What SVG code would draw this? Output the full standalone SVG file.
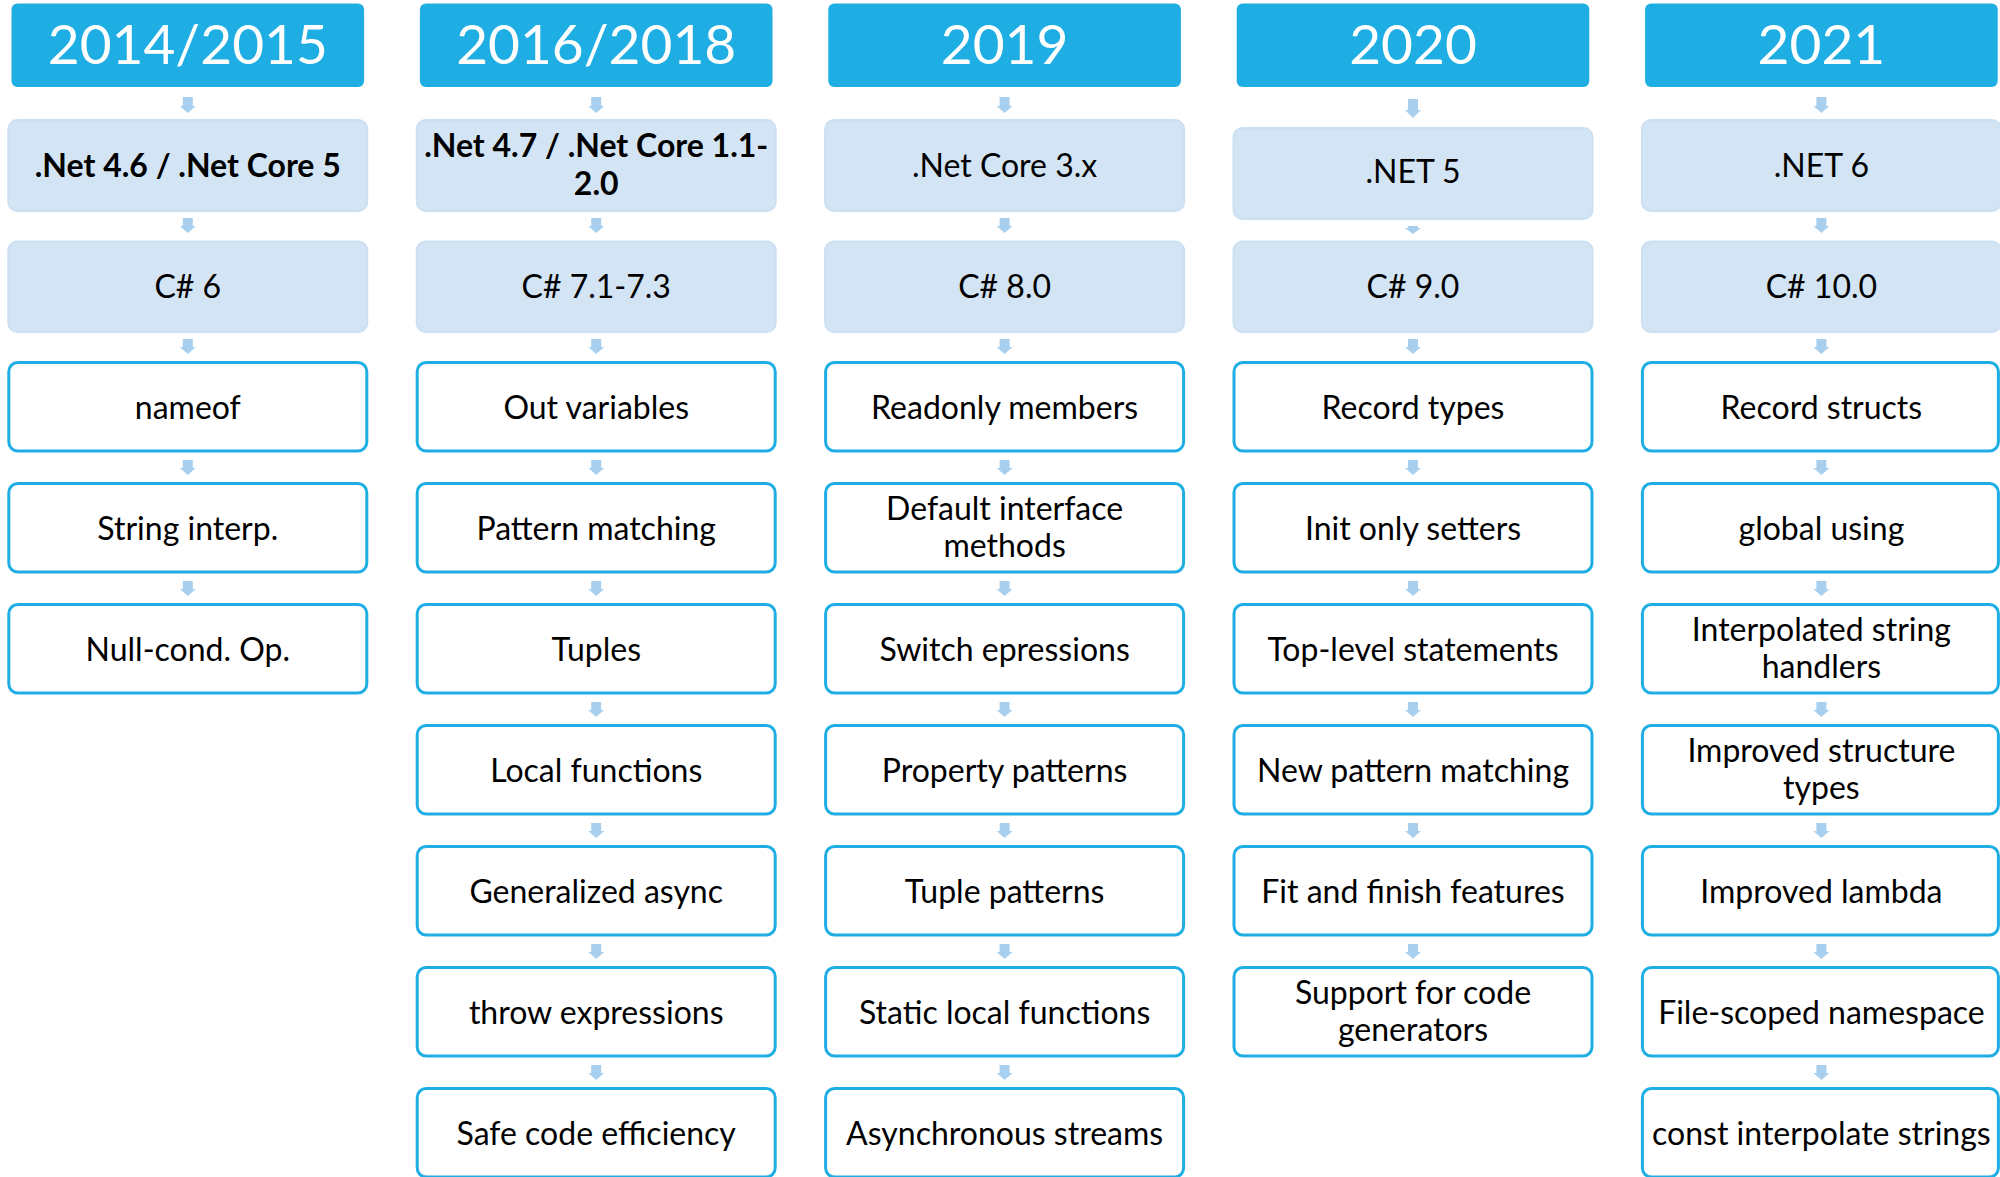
<svg xmlns="http://www.w3.org/2000/svg" width="2000" height="1177" viewBox="0 0 2000 1177">
<style>
.hdr{fill:#1FAEE3}
.hdr-t{fill:#FFFFFF;font-family:Lato,"Liberation Sans",sans-serif;font-size:55px;text-anchor:middle}
.lb{fill:#D3E5F5;stroke:#CCE0F2;stroke-width:2}
.wb{fill:#FFFFFF;stroke:#1FAEE3;stroke-width:3}
.t{fill:#000000;font-family:Lato,"Liberation Sans",sans-serif;font-size:32px;text-anchor:middle}
.b{font-weight:bold}
.arr{fill:#A8D0EE}
</style>
<rect width="2000" height="1177" fill="#FFFFFF"/>

<g id="connectors">
<!-- column 1 cx=187.8 -->
<path class="arr" d="M182.8,97 H192.8 V106 H195.8 L187.8,113 L179.8,106 H182.8 Z"/>
<path class="arr" d="M182.8,218 H192.8 V226 H195.8 L187.8,233 L179.8,226 H182.8 Z"/>
<path class="arr" d="M182.8,339 H192.8 V347 H195.8 L187.8,354 L179.8,347 H182.8 Z"/>
<path class="arr" d="M182.8,460 H192.8 V468 H195.8 L187.8,475 L179.8,468 H182.8 Z"/>
<path class="arr" d="M182.8,581 H192.8 V589 H195.8 L187.8,596 L179.8,589 H182.8 Z"/>
<!-- column 2 cx=596.2 -->
<path class="arr" d="M591.2,97 H601.2 V106 H604.2 L596.2,113 L588.2,106 H591.2 Z"/>
<path class="arr" d="M591.2,218 H601.2 V226 H604.2 L596.2,233 L588.2,226 H591.2 Z"/>
<path class="arr" d="M591.2,339 H601.2 V347 H604.2 L596.2,354 L588.2,347 H591.2 Z"/>
<path class="arr" d="M591.2,460 H601.2 V468 H604.2 L596.2,475 L588.2,468 H591.2 Z"/>
<path class="arr" d="M591.2,581 H601.2 V589 H604.2 L596.2,596 L588.2,589 H591.2 Z"/>
<path class="arr" d="M591.2,702 H601.2 V710 H604.2 L596.2,717 L588.2,710 H591.2 Z"/>
<path class="arr" d="M591.2,823 H601.2 V831 H604.2 L596.2,838 L588.2,831 H591.2 Z"/>
<path class="arr" d="M591.2,944 H601.2 V952 H604.2 L596.2,959 L588.2,952 H591.2 Z"/>
<path class="arr" d="M591.2,1065 H601.2 V1073 H604.2 L596.2,1080 L588.2,1073 H591.2 Z"/>
<!-- column 3 cx=1004.6 -->
<path class="arr" d="M999.6,97 H1009.6 V106 H1012.6 L1004.6,113 L996.6,106 H999.6 Z"/>
<path class="arr" d="M999.6,218 H1009.6 V226 H1012.6 L1004.6,233 L996.6,226 H999.6 Z"/>
<path class="arr" d="M999.6,339 H1009.6 V347 H1012.6 L1004.6,354 L996.6,347 H999.6 Z"/>
<path class="arr" d="M999.6,460 H1009.6 V468 H1012.6 L1004.6,475 L996.6,468 H999.6 Z"/>
<path class="arr" d="M999.6,581 H1009.6 V589 H1012.6 L1004.6,596 L996.6,589 H999.6 Z"/>
<path class="arr" d="M999.6,702 H1009.6 V710 H1012.6 L1004.6,717 L996.6,710 H999.6 Z"/>
<path class="arr" d="M999.6,823 H1009.6 V831 H1012.6 L1004.6,838 L996.6,831 H999.6 Z"/>
<path class="arr" d="M999.6,944 H1009.6 V952 H1012.6 L1004.6,959 L996.6,952 H999.6 Z"/>
<path class="arr" d="M999.6,1065 H1009.6 V1073 H1012.6 L1004.6,1080 L996.6,1073 H999.6 Z"/>
<!-- column 4 cx=1413 -->
<path class="arr" d="M1408,99 H1418 V110 H1421 L1413,118 L1405,110 H1408 Z"/>
<path class="arr" d="M1408,226 H1418 V228 H1421 L1413,234 L1405,228 H1408 Z"/>
<path class="arr" d="M1408,339 H1418 V347 H1421 L1413,354 L1405,347 H1408 Z"/>
<path class="arr" d="M1408,460 H1418 V468 H1421 L1413,475 L1405,468 H1408 Z"/>
<path class="arr" d="M1408,581 H1418 V589 H1421 L1413,596 L1405,589 H1408 Z"/>
<path class="arr" d="M1408,702 H1418 V710 H1421 L1413,717 L1405,710 H1408 Z"/>
<path class="arr" d="M1408,823 H1418 V831 H1421 L1413,838 L1405,831 H1408 Z"/>
<path class="arr" d="M1408,944 H1418 V952 H1421 L1413,959 L1405,952 H1408 Z"/>
<!-- column 5 cx=1821.4 -->
<path class="arr" d="M1816.4,97 H1826.4 V106 H1829.4 L1821.4,113 L1813.4,106 H1816.4 Z"/>
<path class="arr" d="M1816.4,218 H1826.4 V226 H1829.4 L1821.4,233 L1813.4,226 H1816.4 Z"/>
<path class="arr" d="M1816.4,339 H1826.4 V347 H1829.4 L1821.4,354 L1813.4,347 H1816.4 Z"/>
<path class="arr" d="M1816.4,460 H1826.4 V468 H1829.4 L1821.4,475 L1813.4,468 H1816.4 Z"/>
<path class="arr" d="M1816.4,581 H1826.4 V589 H1829.4 L1821.4,596 L1813.4,589 H1816.4 Z"/>
<path class="arr" d="M1816.4,702 H1826.4 V710 H1829.4 L1821.4,717 L1813.4,710 H1816.4 Z"/>
<path class="arr" d="M1816.4,823 H1826.4 V831 H1829.4 L1821.4,838 L1813.4,831 H1816.4 Z"/>
<path class="arr" d="M1816.4,944 H1826.4 V952 H1829.4 L1821.4,959 L1813.4,952 H1816.4 Z"/>
<path class="arr" d="M1816.4,1065 H1826.4 V1073 H1829.4 L1821.4,1080 L1813.4,1073 H1816.4 Z"/>
</g>

<!-- ===== Column 1 ===== -->
<g id="h2014"><rect class="hdr" x="11.5" y="3.5" width="352.6" height="83.5" rx="6"/><text class="hdr-t" x="187.8" y="64">2014/2015</text></g>
<g id="net46"><rect class="lb" x="8.3" y="120" width="359" height="91" rx="9"/><text class="t b" x="187.8" y="176.5">.Net 4.6 / .Net Core 5</text></g>
<g id="cs6"><rect class="lb" x="8.3" y="241.5" width="359" height="90.5" rx="9"/><text class="t" x="187.8" y="297.5">C# 6</text></g>
<g id="nameof"><rect class="wb" x="8.8" y="362.5" width="358" height="88.5" rx="9"/><text class="t" x="187.8" y="418.5">nameof</text></g>
<g id="stringinterp"><rect class="wb" x="8.8" y="483.5" width="358" height="88.5" rx="9"/><text class="t" x="187.8" y="539.5">String interp.</text></g>
<g id="nullcond"><rect class="wb" x="8.8" y="604.5" width="358" height="88.5" rx="9"/><text class="t" x="187.8" y="660.5">Null-cond. Op.</text></g>

<!-- ===== Column 2 ===== -->
<g id="h2016"><rect class="hdr" x="419.9" y="3.5" width="352.6" height="83.5" rx="6"/><text class="hdr-t" x="596.2" y="64">2016/2018</text></g>
<g id="net47"><rect class="lb" x="416.7" y="120" width="359" height="91" rx="9"/><text class="t b" x="596.2" y="157">.Net 4.7 / .Net Core 1.1-</text><text class="t b" x="596.2" y="195">2.0</text></g>
<g id="cs71"><rect class="lb" x="416.7" y="241.5" width="359" height="90.5" rx="9"/><text class="t" x="596.2" y="297.5">C# 7.1-7.3</text></g>
<g id="outvars"><rect class="wb" x="417.2" y="362.5" width="358" height="88.5" rx="9"/><text class="t" x="596.2" y="418.5">Out variables</text></g>
<g id="patternmatching"><rect class="wb" x="417.2" y="483.5" width="358" height="88.5" rx="9"/><text class="t" x="596.2" y="539.5">Pattern matching</text></g>
<g id="tuples"><rect class="wb" x="417.2" y="604.5" width="358" height="88.5" rx="9"/><text class="t" x="596.2" y="660.5">Tuples</text></g>
<g id="localfunctions"><rect class="wb" x="417.2" y="725.5" width="358" height="88.5" rx="9"/><text class="t" x="596.2" y="781.5">Local functions</text></g>
<g id="genasync"><rect class="wb" x="417.2" y="846.5" width="358" height="88.5" rx="9"/><text class="t" x="596.2" y="902.5">Generalized async</text></g>
<g id="throwexpr"><rect class="wb" x="417.2" y="967.5" width="358" height="88.5" rx="9"/><text class="t" x="596.2" y="1023.5">throw expressions</text></g>
<g id="safecode"><rect class="wb" x="417.2" y="1088.5" width="358" height="88.5" rx="9"/><text class="t" x="596.2" y="1144.5">Safe code efficiency</text></g>

<!-- ===== Column 3 ===== -->
<g id="h2019"><rect class="hdr" x="828.3" y="3.5" width="352.6" height="83.5" rx="6"/><text class="hdr-t" x="1004.6" y="64">2019</text></g>
<g id="netcore3"><rect class="lb" x="825.1" y="120" width="359" height="91" rx="9"/><text class="t" x="1004.6" y="176.5">.Net Core 3.x</text></g>
<g id="cs8"><rect class="lb" x="825.1" y="241.5" width="359" height="90.5" rx="9"/><text class="t" x="1004.6" y="297.5">C# 8.0</text></g>
<g id="readonly"><rect class="wb" x="825.6" y="362.5" width="358" height="88.5" rx="9"/><text class="t" x="1004.6" y="418.5">Readonly members</text></g>
<g id="defaultiface"><rect class="wb" x="825.6" y="483.5" width="358" height="88.5" rx="9"/><text class="t" x="1004.6" y="520">Default interface</text><text class="t" x="1004.6" y="557">methods</text></g>
<g id="switchexpr"><rect class="wb" x="825.6" y="604.5" width="358" height="88.5" rx="9"/><text class="t" x="1004.6" y="660.5">Switch epressions</text></g>
<g id="proppatterns"><rect class="wb" x="825.6" y="725.5" width="358" height="88.5" rx="9"/><text class="t" x="1004.6" y="781.5">Property patterns</text></g>
<g id="tuplepatterns"><rect class="wb" x="825.6" y="846.5" width="358" height="88.5" rx="9"/><text class="t" x="1004.6" y="902.5">Tuple patterns</text></g>
<g id="staticlocal"><rect class="wb" x="825.6" y="967.5" width="358" height="88.5" rx="9"/><text class="t" x="1004.6" y="1023.5">Static local functions</text></g>
<g id="asyncstreams"><rect class="wb" x="825.6" y="1088.5" width="358" height="88.5" rx="9"/><text class="t" x="1004.6" y="1144.5">Asynchronous streams</text></g>

<!-- ===== Column 4 ===== -->
<g id="h2020"><rect class="hdr" x="1236.7" y="3.5" width="352.6" height="83.5" rx="6"/><text class="hdr-t" x="1413" y="64">2020</text></g>
<g id="net5"><rect class="lb" x="1233.5" y="128" width="359" height="91" rx="9"/><text class="t" x="1413" y="183">.NET 5</text></g>
<g id="cs9"><rect class="lb" x="1233.5" y="241.5" width="359" height="90.5" rx="9"/><text class="t" x="1413" y="297.5">C# 9.0</text></g>
<g id="recordtypes"><rect class="wb" x="1234" y="362.5" width="358" height="88.5" rx="9"/><text class="t" x="1413" y="418.5">Record types</text></g>
<g id="initonly"><rect class="wb" x="1234" y="483.5" width="358" height="88.5" rx="9"/><text class="t" x="1413" y="539.5">Init only setters</text></g>
<g id="toplevel"><rect class="wb" x="1234" y="604.5" width="358" height="88.5" rx="9"/><text class="t" x="1413" y="660.5">Top-level statements</text></g>
<g id="newpattern"><rect class="wb" x="1234" y="725.5" width="358" height="88.5" rx="9"/><text class="t" x="1413" y="781.5">New pattern matching</text></g>
<g id="fitfinish"><rect class="wb" x="1234" y="846.5" width="358" height="88.5" rx="9"/><text class="t" x="1413" y="902.5">Fit and finish features</text></g>
<g id="codegen"><rect class="wb" x="1234" y="967.5" width="358" height="88.5" rx="9"/><text class="t" x="1413" y="1004">Support for code</text><text class="t" x="1413" y="1041">generators</text></g>

<!-- ===== Column 5 ===== -->
<g id="h2021"><rect class="hdr" x="1645.1" y="3.5" width="352.6" height="83.5" rx="6"/><text class="hdr-t" x="1821.4" y="64">2021</text></g>
<g id="net6"><rect class="lb" x="1641.9" y="120" width="359" height="91" rx="9"/><text class="t" x="1821.4" y="176.5">.NET 6</text></g>
<g id="cs10"><rect class="lb" x="1641.9" y="241.5" width="359" height="90.5" rx="9"/><text class="t" x="1821.4" y="297.5">C# 10.0</text></g>
<g id="recordstructs"><rect class="wb" x="1642.4" y="362.5" width="356" height="88.5" rx="9"/><text class="t" x="1821.4" y="418.5">Record structs</text></g>
<g id="globalusing"><rect class="wb" x="1642.4" y="483.5" width="356" height="88.5" rx="9"/><text class="t" x="1821.4" y="539.5">global using</text></g>
<g id="interphandlers"><rect class="wb" x="1642.4" y="604.5" width="356" height="88.5" rx="9"/><text class="t" x="1821.4" y="641">Interpolated string</text><text class="t" x="1821.4" y="678">handlers</text></g>
<g id="structtypes"><rect class="wb" x="1642.4" y="725.5" width="356" height="88.5" rx="9"/><text class="t" x="1821.4" y="762">Improved structure</text><text class="t" x="1821.4" y="799">types</text></g>
<g id="lambda"><rect class="wb" x="1642.4" y="846.5" width="356" height="88.5" rx="9"/><text class="t" x="1821.4" y="902.5">Improved lambda</text></g>
<g id="filescoped"><rect class="wb" x="1642.4" y="967.5" width="356" height="88.5" rx="9"/><text class="t" x="1821.4" y="1023.5">File-scoped namespace</text></g>
<g id="constinterp"><rect class="wb" x="1642.4" y="1088.5" width="356" height="88.5" rx="9"/><text class="t" x="1821.4" y="1144.5">const interpolate strings</text></g>
</svg>
